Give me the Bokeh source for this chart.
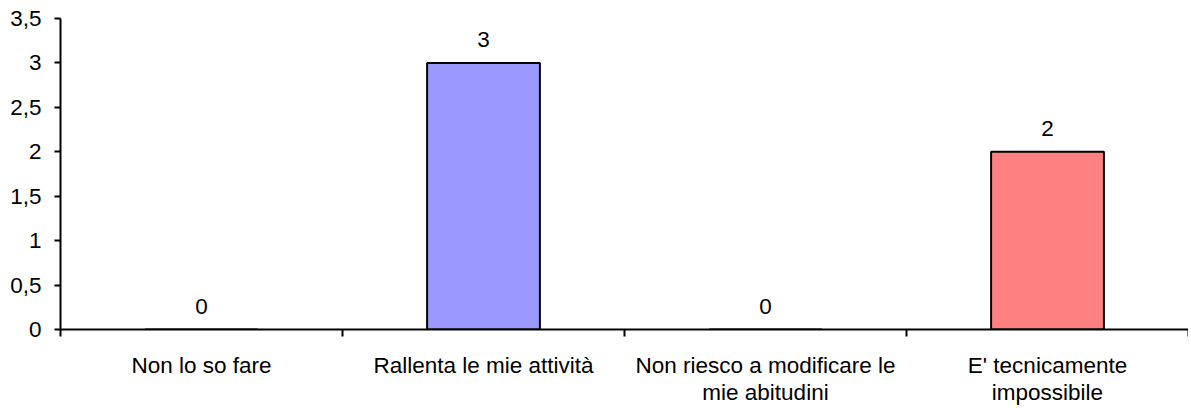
from bokeh.plotting import figure
from bokeh.models import FixedTicker, CustomJSTickFormatter, Range1d, ColumnDataSource
from bokeh.core.properties import value
from bokeh.embed import file_html
from bokeh.resources import INLINE

categories = ["Non lo so fare", "Rallenta le mie attività",
              "Non riesco a modificare le\nmie abitudini", "E' tecnicamente\nimpossibile"]
values = [0, 3, 0, 2]
colors = ["#9999FF", "#9999FF", "#FF8080", "#FF8080"]
y_ticks = [0, 0.5, 1, 1.5, 2, 2.5, 3, 3.5]

FONT = "Liberation Sans"
FS = "22.5px"

xs = [i + 0.5 for i in range(len(categories))]
src = ColumnDataSource(dict(x=xs, top=values, color=colors, label=[str(v) for v in values]))

p = figure(width=1188, height=412, output_backend="svg", toolbar_location=None,
           x_range=Range1d(0, len(categories)), y_range=Range1d(0, 3.5),
           min_border_left=60, min_border_top=18, min_border_bottom=83, min_border_right=0)
p.outline_line_color = None
p.xgrid.visible = False
p.ygrid.visible = False
p.background_fill_color = "white"

p.vbar(x="x", top="top", bottom=0, width=0.4, fill_color="color",
       line_color="black", line_width=2, source=src)
p.text(x="x", y="top", text="label", source=src, text_align="center",
       text_baseline="alphabetic", y_offset=-23, text_font=value(FONT),
       text_font_size=FS, text_color="black")

# x axis: ticks at category boundaries, labels at centers
p.xaxis.ticker = FixedTicker(ticks=xs, minor_ticks=list(range(len(categories) + 1)))
p.xaxis.formatter = CustomJSTickFormatter(args=dict(labels=categories),
                                          code="return labels[Math.floor(tick)];")
p.xaxis.major_tick_out = 0
p.xaxis.major_tick_in = 0
p.xaxis.minor_tick_out = 7
p.xaxis.minor_tick_in = 0
p.xaxis.minor_tick_line_width = 2
p.xaxis.minor_tick_line_color = "black"
p.xaxis.axis_line_width = 2
p.xaxis.axis_line_color = "black"
p.xaxis.major_label_text_font = FONT
p.xaxis.major_label_text_font_size = FS
p.xaxis.major_label_text_color = "black"
p.xaxis.major_label_text_line_height = 1.1
p.xaxis.major_label_standoff = 16

p.yaxis.ticker = FixedTicker(ticks=y_ticks)
p.yaxis.formatter = CustomJSTickFormatter(code="return tick.toString().replace('.', ',');")
p.yaxis.major_tick_out = 6
p.yaxis.major_tick_in = 0
p.yaxis.minor_tick_line_color = None
p.yaxis.major_tick_line_width = 2
p.yaxis.axis_line_width = 2
p.yaxis.axis_line_color = "black"
p.yaxis.major_label_text_font = FONT
p.yaxis.major_label_text_font_size = FS
p.yaxis.major_label_text_color = "black"
p.yaxis.major_label_standoff = 13

open("out.html", "w").write(file_html(p, INLINE))
